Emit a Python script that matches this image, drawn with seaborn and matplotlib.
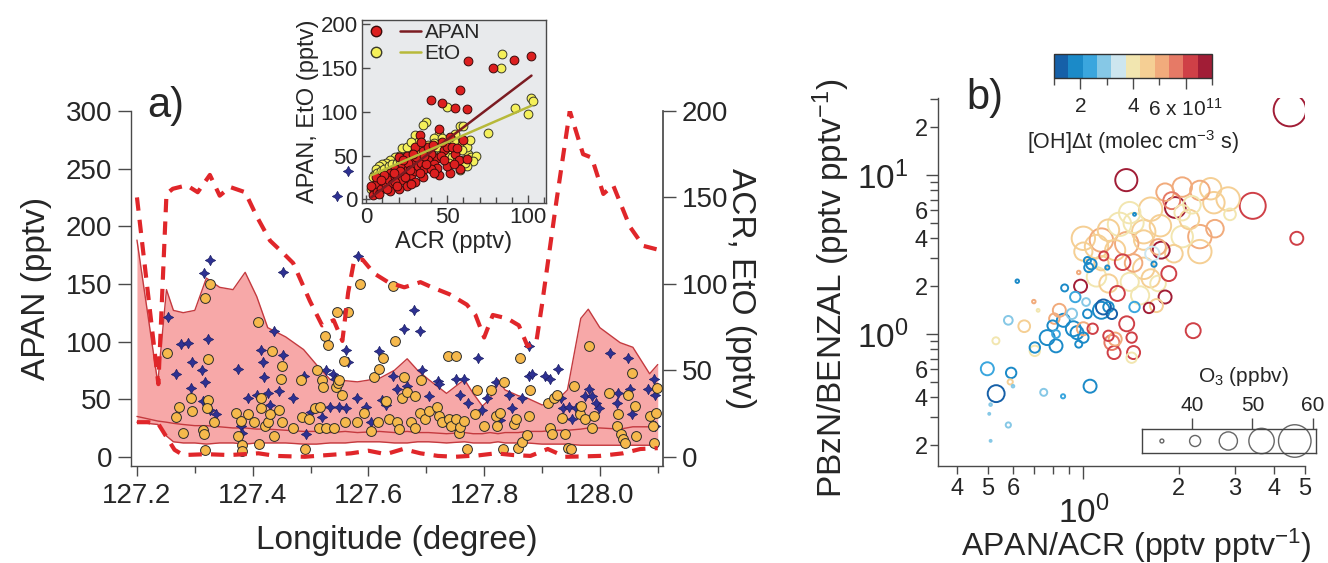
import numpy as np
import pandas as pd
import matplotlib
matplotlib.use("Agg")
import matplotlib.pyplot as plt
import matplotlib.ticker as mticker
from matplotlib.colors import ListedColormap, Normalize
from matplotlib.cm import ScalarMappable
from matplotlib.lines import Line2D
from matplotlib.legend_handler import HandlerTuple
import seaborn as sns

sns.set_theme(style="ticks")
plt.rcParams["font.family"] = ["Liberation Sans", "DejaVu Sans"]
plt.rcParams["mathtext.fontset"] = "custom"
plt.rcParams["mathtext.rm"] = "Liberation Sans"
plt.rcParams["mathtext.it"] = "Liberation Sans:italic"
plt.rcParams["mathtext.bf"] = "Liberation Sans:bold"

# ---------------- panel a: flight track data ----------------
# APAN envelope (min / median / max, pptv, left axis)
env_lon = [127.200, 127.236, 127.251, 127.263, 127.28, 127.30, 127.32, 127.343, 127.366, 127.387,
           127.407, 127.426, 127.457, 127.488, 127.51, 127.534, 127.56, 127.581, 127.619, 127.645,
           127.667, 127.685, 127.704, 127.735, 127.766, 127.781, 127.797, 127.81, 127.824, 127.836,
           127.859, 127.874, 127.90, 127.92, 127.944, 127.967, 127.98, 128.0, 128.035, 128.057,
           128.086, 128.10]
env_high = [188, 64, 145, 127, 125, 127, 155, 147, 145, 160,
            139, 112, 104, 93, 80, 67, 66, 65, 68, 75,
            85, 75, 67, 55, 67, 55, 44, 50, 67, 58,
            53, 51, 45, 46, 58, 120, 128, 112, 99, 95,
            72, 80]
env_mid = [35, 31, 30, 29, 28, 27, 27, 26, 25, 25,
           24, 24, 23, 22, 22, 21, 22, 21, 22, 21,
           22, 21, 21, 20, 21, 20, 20, 21, 20, 21,
           21, 22, 22, 23, 23, 24, 25, 25, 24, 26,
           26, 27]
env_low = [30, 28, 18, 13, 12, 12, 11, 12, 12, 11,
           12, 12, 12, 11, 11, 12, 12, 13, 13, 12,
           12, 13, 13, 12, 13, 12, 12, 12, 13, 12,
           12, 12, 11, 11, 11, 10, 10, 10, 10, 10,
           10, 10]

# ACR upper / lower bounds (pptv, right axis)
acr_hi_lon = [127.200, 127.237, 127.251, 127.262, 127.286, 127.305, 127.326, 127.343, 127.361, 127.387,
              127.407, 127.430, 127.452, 127.470, 127.499, 127.52, 127.54, 127.555, 127.565, 127.575,
              127.59, 127.61, 127.634, 127.662, 127.69, 127.71, 127.74, 127.77, 127.785, 127.80,
              127.815, 127.84, 127.86, 127.875, 127.89, 127.90, 127.925, 127.948, 127.971, 127.986,
              128.006, 128.023, 128.052, 128.075, 128.098]
acr_hi = [150, 42, 152, 155, 157, 153, 163, 151, 156, 153,
          139, 125, 118, 112, 90, 76, 79, 67, 95, 113,
          114, 106, 101, 98, 101, 98, 94, 88, 82, 69,
          82, 80, 76, 64, 66, 88, 148, 200, 175, 173,
          152, 157, 133, 122, 120]
acr_lo_lon = [127.200, 127.22, 127.237, 127.25, 127.265, 127.28, 127.32, 127.36, 127.41, 127.44,
              127.49, 127.53, 127.57, 127.60, 127.63, 127.66, 127.69, 127.72, 127.75, 127.79,
              127.82, 127.85, 127.88, 127.91, 127.94, 127.97, 128.0, 128.04, 128.07, 128.10]
acr_lo = [20, 20, 19, 12, 4, 1, 1.5, 1, 2, 0.5,
          0, 1, 2, 3.5, 1.5, 4.5, 2, 0.5, 0, 0.8,
          2, 1, 0.5, 4.5, 0, 0.2, 0.5, 2, 4.5, 5]

# APAN observations (pptv, left axis)
apan_lon = [127.252, 127.272, 127.267, 127.280, 127.295, 127.293, 127.317, 127.326, 127.314, 127.316,
            127.317, 127.323, 127.323, 127.321, 127.334, 127.372, 127.375, 127.380, 127.382, 127.381,
            127.392, 127.403, 127.409, 127.411, 127.415, 127.414, 127.422, 127.426, 127.430, 127.434,
            127.436, 127.451, 127.449, 127.446, 127.450, 127.469, 127.484, 127.485, 127.490, 127.498,
            127.507, 127.511, 127.515, 127.517, 127.520, 127.522, 127.525, 127.530, 127.527, 127.541,
            127.544, 127.547, 127.546, 127.565, 127.550, 127.554, 127.558, 127.560, 127.581, 127.585,
            127.592, 127.604, 127.610, 127.616, 127.619, 127.625, 127.631, 127.635, 127.642, 127.646,
            127.650, 127.652, 127.658, 127.662, 127.666, 127.673, 127.680, 127.681, 127.689, 127.691,
            127.697, 127.704, 127.718, 127.722, 127.727, 127.737, 127.751, 127.739, 127.743, 127.751,
            127.756, 127.758, 127.766, 127.770, 127.785, 127.787, 127.800, 127.812, 127.820, 127.822,
            127.828, 127.832, 127.834, 127.851, 127.855, 127.859, 127.862, 127.866, 127.874, 127.878,
            127.879, 127.911, 127.913, 127.920, 127.926, 127.918, 127.935, 127.940, 127.945, 127.950,
            127.955, 127.966, 127.968, 127.974, 127.982, 127.986, 127.990, 128.015, 128.029, 128.031,
            128.036, 128.040, 128.044, 128.048, 128.056, 128.060, 128.062, 128.087, 128.091, 128.097,
            128.098, 128.094]
apan_obs = [90, 43, 34.5, 21, 40, 51, 138, 150, 23, 20,
            6, 85, 49, 42.5, 30, 38, 18, 31, 10, 5,
            37, 30, 117, 11, 42.5, 51, 27, 30, 37, 92,
            18, 79, 67.5, 41, 30, 25, 67, 34.5, 7, 32.5,
            42.5, 75.6, 25, 43, 67, 60.6, 105, 97, 25, 25,
            60.6, 64, 126, 126, 67, 54, 83, 30, 30, 150,
            38, 22.4, 69, 30, 76, 85.6, 48, 32.5, 148, 100.5,
            30, 24, 51, 69, 56, 30, 52.6, 25, 38, 67,
            32.5, 39.6, 43, 35, 30, 87, 87.6, 32.5, 26.7, 32.5,
            21, 26, 31, 6.6, 36.8, 58, 27, 58, 35, 26.7,
            38, 6.6, 64.7, 28, 32.5, 8, 86, 13, 19, 35,
            58, 47, 25, 51, 54, 19.5, 34, 19.5, 8, 6.6,
            61, 36.8, 44, 32.5, 95.7, 25, 35, 55.5, 26.7, 36.8,
            19.5, 15, 12, 54, 72.7, 44, 18, 35, 26.7, 38,
            60, 12]

# EtO observations (pptv, right axis)
eto_lon = [127.253, 127.268, 127.276, 127.289, 127.295, 127.293, 127.312, 127.318, 127.323, 127.315,
           127.326, 127.314, 127.326, 127.336, 127.375, 127.380, 127.382, 127.392, 127.408, 127.415,
           127.417, 127.419, 127.426, 127.430, 127.436, 127.446, 127.453, 127.453, 127.469, 127.488,
           127.492, 127.500, 127.519, 127.527, 127.533, 127.538, 127.542, 127.550, 127.561, 127.564,
           127.562, 127.545, 127.565, 127.582, 127.581, 127.596, 127.604, 127.618, 127.623, 127.631,
           127.642, 127.650, 127.662, 127.667, 127.679, 127.689, 127.693, 127.704, 127.716, 127.720,
           127.722, 127.751, 127.758, 127.766, 127.772, 127.789, 127.797, 127.805, 127.820, 127.828,
           127.843, 127.849, 127.866, 127.878, 127.878, 127.882, 127.905, 127.913, 127.927, 127.932,
           127.936, 127.947, 127.951, 127.959, 127.975, 127.982, 127.986, 127.994, 127.998, 128.017,
           128.029, 128.032, 128.048, 128.052, 128.056, 128.083, 128.094, 128.095, 128.095]
eto_obs = [81, 48, 65, 66, 55, 40, 50, 43, 68, 106,
           114, 32, 27, 25, 51, 18, 14, 34, 36, 62,
           55, 46, 37, 30, 73, 38, 59, 107, 34, 47,
           13, 26, 23, 50, 29, 48, 45, 29, 62, 55,
           28, 151, 165, 116, 34, 29, 20, 61, 33, 30,
           47, 39, 74, 41, 85, 73, 50, 35, 28, 44,
           42, 45, 36, 45, 31, 57, 27, 34, 43, 21,
           36, 28, 34, 64, 47, 48, 47, 45, 51, 34,
           28, 29, 22, 28, 35, 39, 35, 31, 28, 60,
           31, 37, 57, 39, 25, 39, 45, 36, 18]

# inset: APAN and EtO against ACR (pptv)
acr_r = [40, 47, 55, 58, 63, 62, 78, 91, 102, 45, 52, 60, 33, 35, 48, 55, 57, 62, 52, 50,
         45, 58, 54, 44, 38, 40, 30, 28, 25, 20, 22, 18, 15, 12, 10, 8, 5, 4, 6, 3,
         7, 9, 12, 14, 16, 18, 20, 22, 24, 26, 28, 30, 32, 34, 36, 38, 42, 44, 46, 48,
         50, 35, 30, 25, 20, 15, 28, 33, 40, 26, 18, 13, 11, 6, 24, 21, 17, 31, 37, 42,
         27, 19, 9, 8, 36, 41, 47, 53, 56, 34, 23, 29]
apan_r = [113, 110, 104, 125, 157, 103, 150, 158, 163, 80, 71, 68, 73, 55, 56, 52, 45, 46, 30, 38,
          28, 35, 40, 47, 60, 52, 60, 45, 50, 48, 40, 35, 30, 25, 20, 15, 10, 5, 18, 15,
          8, 12, 16, 22, 18, 25, 28, 22, 30, 35, 28, 32, 38, 42, 35, 45, 40, 36, 50, 45,
          60, 25, 20, 15, 12, 10, 18, 30, 35, 42, 20, 12, 28, 25, 25, 32, 30, 48, 40, 30,
          33, 15, 22, 6, 50, 62, 65, 60, 58, 65, 45, 52]
acr_y = [83, 84, 92, 100, 102, 103, 75, 50, 37, 58, 60, 55, 63, 65, 68, 66, 62, 58, 60, 35,
         30, 32, 45, 42, 48, 52, 40, 38, 35, 30, 28, 25, 22, 20, 18, 15, 12, 10, 8, 6,
         5, 4, 7, 9, 11, 14, 16, 19, 21, 24, 27, 29, 31, 33, 36, 39, 43, 46, 49, 53,
         56, 61, 13, 17, 23, 26, 34, 41, 44, 47, 57, 62, 64, 51, 10, 3, 6, 25, 32, 38,
         59, 42, 54, 28, 20]
eto_y = [150, 165, 104, 97, 115, 112, 76, 105, 88, 83, 84, 75, 52, 48, 50, 44, 38, 33, 45, 85,
         73, 65, 75, 70, 62, 57, 55, 50, 48, 50, 55, 52, 58, 50, 48, 45, 42, 40, 38, 35,
         28, 25, 30, 32, 35, 38, 40, 42, 45, 47, 45, 40, 43, 47, 42, 45, 48, 52, 50, 48,
         44, 42, 30, 33, 37, 30, 35, 38, 60, 70, 62, 60, 68, 42, 22, 12, 18, 60, 57, 62,
         56, 64, 66, 65, 35]
apan_fit = (1.40, -2.0)   # slope, intercept
eto_fit = (0.80, 25.0)
fit_range = [3, 102]

# ---------------- panel b: ratio scatter ----------------
ratio_x = [4.48, 1.366, 3.42, 4.71, 1.95, 1.76, 2.05, 2.33, 2.52, 2.86,
           2.9, 1.9, 1.63, 1.40, 2.16, 2.05, 2.33, 1.72, 1.55, 1.37,
           1.14, 1.26, 1.45, 1.16, 1.33, 1.04, 1.0, 1.1, 1.44, 1.55,
           1.93, 2.05, 2.58, 1.81, 1.44, 1.19, 1.67, 1.65, 1.03, 0.619,
           1.06, 0.98, 0.873, 0.943, 1.02, 1.157, 1.14, 1.2, 1.45, 1.28,
           1.61, 1.81, 1.86, 2.22, 1.37, 1.42, 1.2, 1.23, 1.26, 1.25,
           1.44, 1.42, 1.07, 0.84, 0.865, 0.93, 0.955, 1.0, 0.967, 0.769,
           0.82, 0.703, 0.703, 0.651, 0.58, 0.53, 0.498, 0.531, 0.592, 0.588,
           0.6, 0.75, 0.863, 1.05, 0.51, 0.505, 0.58, 0.51, 0.698, 0.72,
           0.967, 1.23, 1.03, 1.63, 1.51, 1.1, 1.2, 1.4, 1.55, 2.33,
           1.72, 1.14, 0.81, 0.92, 1.7, 0.8, 0.82, 1.0, 1.2, 1.3,
           1.75, 2.2, 1.0, 2.6]
ratio_y = [25.6, 9.29, 6.4, 4.0, 6.25, 3.37, 8.4, 8.0, 8.2, 7.07,
           5.66, 6.9, 6.1, 5.8, 5.25, 4.1, 4.1, 3.53, 3.9, 3.7,
           3.9, 3.37, 5.66, 3.1, 2.83, 2.62, 4.0, 3.55, 5.0, 4.4,
           3.2, 5.8, 6.7, 7.8, 2.8, 2.62, 2.75, 3.2, 2.9, 2.15,
           2.75, 2.0, 1.95, 1.71, 1.59, 1.48, 1.41, 1.48, 1.48, 1.8,
           1.46, 1.71, 2.4, 1.05, 1.16, 0.95, 0.975, 0.885, 0.93, 0.765,
           0.765, 0.71, 1.08, 1.41, 1.22, 1.08, 1.02, 0.95, 0.864, 0.95,
           0.843, 0.823, 0.784, 1.12, 1.22, 0.907, 0.605, 0.422, 0.57, 0.5,
           0.47, 0.43, 0.406, 0.47, 0.36, 0.315, 0.268, 0.213, 1.6, 1.41,
           2.44, 1.34, 1.34, 2.24, 1.75, 2.29, 2.08, 2.13, 2.59, 3.3,
           2.08, 2.79, 1.25, 1.34, 1.51, 1.13, 1.0, 1.08, 4.5, 4.9,
           4.8, 6.5, 3.3, 4.6]
oh_dt = [6.8, 6.5, 6.0, 6.0, 7.0, 7.0, 5.0, 5.0, 4.6, 4.6,
         4.0, 5.5, 4.6, 4.0, 4.6, 4.0, 5.0, 5.0, 4.6, 5.0,
         5.0, 4.6, 2.0, 6.0, 6.0, 2.0, 4.6, 4.6, 4.0, 4.6,
         4.6, 4.0, 4.6, 5.0, 5.0, 2.0, 2.0, 3.5, 2.0, 2.0,
         2.0, 6.5, 2.0, 2.5, 3.0, 1.5, 2.0, 2.0, 2.5, 6.0,
         7.0, 7.0, 6.0, 6.0, 6.0, 6.0, 6.0, 5.5, 5.0, 6.0,
         6.0, 4.0, 6.0, 5.0, 2.0, 1.8, 2.0, 2.0, 2.0, 2.0,
         2.0, 2.0, 4.0, 4.6, 3.0, 4.0, 2.5, 1.5, 2.0, 4.6,
         3.0, 3.0, 2.5, 2.0, 3.0, 3.0, 3.0, 3.0, 5.0, 4.0,
         5.0, 1.5, 2.0, 4.6, 4.0, 4.0, 4.6, 4.0, 4.6, 4.6,
         4.0, 4.6, 5.0, 3.0, 4.6, 2.0, 2.5, 5.0, 4.6, 4.0,
         4.6, 4.0, 4.6, 5.0]
o3 = [57, 49, 52, 42, 48, 45, 47, 47, 48.5, 50,
      41, 45, 50, 48.5, 47, 48.5, 50, 44, 47, 50,
      50, 47.5, 34.2, 39, 44, 39, 50, 50, 47.5, 50,
      45.5, 44, 48.5, 45.5, 45.5, 35.2, 36, 43, 37.4, 34.7,
      40, 42, 37.4, 40, 38, 43.5, 45, 40, 40, 43.5,
      40, 42, 43.5, 43.5, 43.5, 40, 40, 43.5, 42, 42,
      42, 40, 40, 42, 42, 43.5, 42, 40, 37.4, 43.5,
      42, 40, 40, 41, 38.7, 37.4, 42, 45, 40, 36,
      34, 37.4, 35.2, 42, 34, 33.5, 36, 33.5, 34.7, 34.2,
      34.7, 40, 38.7, 46, 46, 47, 46, 46, 48.5, 50,
      44, 43, 40, 40, 42, 40, 38, 42, 48.5, 50,
      48.5, 45.5, 46, 45.5]
o3_key = [35, 40.5, 46, 51.5, 57]

oh_colors = ["#1660a8", "#1b8ac8", "#3aa6de", "#86c8e6", "#cde6ef", "#f2e6b0",
             "#f5cf94", "#f1ab7c", "#e67a66", "#cf4047", "#a11d36"]
oh_cmap = ListedColormap(oh_colors)
oh_norm = Normalize(1, 7)


def o3_area(v):
    """Marker area (pt^2) for an O3 mixing ratio: diameter grows linearly."""
    return (0.936 * (np.asarray(v, float) - 32.0)) ** 2


def to_right(v):
    return np.asarray(v, float) / 1.5


def to_left(v):
    return np.asarray(v, float) * 1.5


SPINE = "#4a4a4a"
fig = plt.figure(figsize=(13.28, 5.63), dpi=100)

# ================= panel a =================
ax = fig.add_axes([0.0986, 0.1723, 0.4006, 0.6306])
ax.set_xlim(127.1896, 128.109)
ax.set_ylim(-8, 300)

ax.fill_between(env_lon, env_low, env_high, color="#f7a8a8", lw=0, zorder=1)
for arr in (env_high, env_mid, env_low):
    sns.lineplot(x=env_lon, y=arr, ax=ax, color="#c43a3f", lw=1.0,
                 estimator=None, sort=False, zorder=2)

sns.scatterplot(x=eto_lon, y=to_left(eto_obs), ax=ax, marker=(4, 1, 0), s=55,
                color="#2e3192", edgecolor="#1c1f66", linewidth=0.5, zorder=4, legend=False)
sns.scatterplot(x=apan_lon, y=apan_obs, ax=ax, marker="o", s=50,
                color="#f6b94c", edgecolor="#2b2b2b", linewidth=0.7, zorder=5, legend=False)

for lon, vals in ((acr_hi_lon, acr_hi), (acr_lo_lon, acr_lo)):
    sns.lineplot(x=lon, y=to_left(vals), ax=ax, color="#e0262a", lw=3.0,
                 linestyle=(0, (3.2, 2.2)), estimator=None, sort=False, zorder=6)

ax.set_yticks([0, 50, 100, 150, 200, 250, 300])
ax.set_xticks([127.2, 127.4, 127.6, 127.8, 128.0])
ax.xaxis.set_major_formatter(mticker.FormatStrFormatter("%.1f"))
ax.xaxis.set_minor_locator(mticker.FixedLocator([127.3, 127.5, 127.7, 127.9, 128.1]))
ax.tick_params(axis="y", which="major", direction="out", length=9.5, width=1,
               color=SPINE, labelsize=20, pad=4)
ax.tick_params(axis="x", which="major", direction="out", length=7, width=1,
               color=SPINE, labelsize=20, pad=5)
ax.tick_params(axis="x", which="minor", direction="out", length=5, width=1, color=SPINE)
for side in ("top", "right"):
    ax.spines[side].set_visible(False)
for side in ("left", "bottom"):
    ax.spines[side].set_color(SPINE)
    ax.spines[side].set_linewidth(1)
ax.set_xlabel("Longitude (degree)", fontsize=24, labelpad=12)
ax.set_ylabel("APAN (pptv)", fontsize=24, labelpad=10)

sec = ax.secondary_yaxis("right", functions=(to_right, to_left))
sec.set_yticks([0, 50, 100, 150, 200])
sec.tick_params(direction="out", length=9.5, width=1, color=SPINE, labelsize=20, pad=4)
sec.spines["right"].set_color(SPINE)
sec.set_ylabel("ACR, EtO (pptv)", fontsize=24, rotation=270, va="center", ha="center")
sec.yaxis.set_label_coords(1.145, 0.5, transform=ax.transAxes)

fig.text(166 / 1328, 1 - 106 / 563, "a)", fontsize=30, ha="center", va="center")

# ---- inset ----
axi = fig.add_axes([0.2726, 0.6394, 0.1386, 0.3251], facecolor="#e8eaec")
axi.set_xlim(-2.5, 111)
axi.set_ylim(-4, 204)
sns.scatterplot(x=acr_y, y=eto_y, ax=axi, s=40, color="#f4f05a", edgecolor="#3a3a2a",
                linewidth=0.7, zorder=3, legend=False)
sns.scatterplot(x=acr_r, y=apan_r, ax=axi, s=40, color="#dc1f1f", edgecolor="#3a0a0a",
                linewidth=0.7, zorder=4, legend=False)
fx = np.array(fit_range, float)
sns.lineplot(x=fx, y=apan_fit[0] * fx + apan_fit[1], ax=axi, color="#7b1c22", lw=1.8, zorder=5)
sns.lineplot(x=fx, y=eto_fit[0] * fx + eto_fit[1], ax=axi, color="#b7b93a", lw=1.8, zorder=5)
axi.set_xticks([0, 50, 100])
axi.xaxis.set_minor_locator(mticker.MultipleLocator(10))
axi.set_yticks([0, 50, 100, 150, 200])
axi.tick_params(which="major", direction="in", length=6, width=1, color=SPINE,
                labelsize=16, pad=3)
axi.tick_params(which="minor", direction="in", length=4, width=1, color=SPINE)
for s in axi.spines.values():
    s.set_color(SPINE)
    s.set_linewidth(1)
axi.set_xlabel("ACR (pptv)", fontsize=17, labelpad=2)
axi.set_ylabel("APAN, EtO (pptv)", fontsize=17, labelpad=1)
h_apan = (Line2D([], [], marker="o", ls="none", mfc="#dc1f1f", mec="#3a0a0a", ms=7.5),
          Line2D([], [], color="#7b1c22", lw=1.8))
h_eto = (Line2D([], [], marker="o", ls="none", mfc="#f4f05a", mec="#3a3a2a", ms=7.5),
         Line2D([], [], color="#b7b93a", lw=1.8))
axi.legend([h_apan, h_eto], ["APAN", "EtO"],
           handler_map={tuple: HandlerTuple(ndivide=None, pad=0.6)},
           loc="upper left", frameon=False, fontsize=15, handlelength=2.7,
           handletextpad=0.15, borderaxespad=0.0, borderpad=0.15, labelspacing=0.1)

# ================= panel b =================
axb = fig.add_axes([0.7063, 0.1723, 0.2764, 0.6536])
axb.set_xscale("log")
axb.set_yscale("log")
dfb = pd.DataFrame({"ratio_x": ratio_x, "ratio_y": ratio_y, "oh": oh_dt, "o3": o3})
dfb = dfb.sort_values("o3", ascending=False).reset_index(drop=True)
sns.scatterplot(data=dfb, x="ratio_x", y="ratio_y", hue="oh", palette=oh_cmap,
                hue_norm=oh_norm, s=o3_area(dfb["o3"]), marker="o", linewidth=0,
                ax=axb, legend=False, zorder=3)
pts = axb.collections[-1]
pts.set_edgecolors(pts.get_facecolors())
pts.set_facecolors("none")
pts.set_linewidths(1.4)
axb.set_xlim(0.348, 5.0)
axb.set_ylim(0.148, 30.5)

axb.xaxis.set_major_locator(mticker.FixedLocator([1]))
axb.xaxis.set_major_formatter(mticker.FixedFormatter(["$10^{0}$"]))
x_minor = [0.4, 0.5, 0.6, 0.7, 0.8, 0.9, 2, 3, 4, 5]
x_minor_lab = ["4", "5", "6", "", "", "", "2", "3", "4", "5"]
axb.xaxis.set_minor_locator(mticker.FixedLocator(x_minor))
axb.xaxis.set_minor_formatter(mticker.FixedFormatter(x_minor_lab))
axb.yaxis.set_major_locator(mticker.FixedLocator([1, 10]))
axb.yaxis.set_major_formatter(mticker.FixedFormatter(["$10^{0}$", "$10^{1}$"]))
y_minor = [0.2, 0.3, 0.4, 0.5, 0.6, 0.7, 0.8, 0.9, 2, 3, 4, 5, 6, 7, 8, 9, 20, 30]
y_minor_lab = ["2", "", "4", "", "6", "", "", "", "2", "", "4", "", "6", "", "", "", "2", ""]
axb.yaxis.set_minor_locator(mticker.FixedLocator(y_minor))
axb.yaxis.set_minor_formatter(mticker.FixedFormatter(y_minor_lab))
axb.tick_params(which="both", direction="out", color=SPINE, width=1)
axb.tick_params(axis="x", which="major", length=9, labelsize=24, pad=12)
axb.tick_params(axis="x", which="minor", length=5.5, labelsize=17, pad=3)
axb.tick_params(axis="y", which="major", length=9, labelsize=24, pad=12)
axb.tick_params(axis="y", which="minor", length=5.5, labelsize=17, pad=2)
for side in ("top", "right"):
    axb.spines[side].set_visible(False)
for side in ("left", "bottom"):
    axb.spines[side].set_color(SPINE)
    axb.spines[side].set_linewidth(1)
axb.set_xlabel("APAN/ACR (pptv pptv$^{-1}$)", fontsize=23, va="center")
axb.xaxis.set_label_coords(0.54, -0.218)
axb.set_ylabel("PBzN/BENZAL (pptv pptv$^{-1}$)", fontsize=24)
axb.yaxis.set_label_coords(-0.234, 0.484)
fig.text(985 / 1328, 1 - 98 / 563, "b)", fontsize=30, ha="center", va="center")

# colour bar for [OH]dt
cax = fig.add_axes([0.7937, 0.8615, 0.119, 0.0426])
cb = fig.colorbar(ScalarMappable(norm=oh_norm, cmap=oh_cmap), cax=cax, orientation="horizontal")
cb.set_ticks([2, 4, 6])
cb.set_ticklabels(["2", "4", "6 x 10$^{11}$"])
cax.xaxis.set_minor_locator(mticker.FixedLocator([1, 3, 5, 7]))
cax.tick_params(which="major", direction="out", length=8, width=1, color=SPINE,
                labelsize=15, pad=6)
cax.tick_params(which="minor", direction="out", length=5, width=1, color=SPINE)
cb.outline.set_edgecolor("#333333")
cb.outline.set_linewidth(1)
cb.set_label("[OH]Δt (molec cm$^{-3}$ s)", fontsize=15.5, labelpad=6)

# size key for O3
axl = fig.add_axes([0.8599, 0.1954, 0.1310, 0.0426])
axl.set_xlim(31.7, 60.5)
axl.set_ylim(0, 1)
sns.scatterplot(x=o3_key, y=[0.5] * len(o3_key), s=o3_area(o3_key), marker="o",
                color="#666666", linewidth=0, ax=axl, legend=False, clip_on=False)
key = axl.collections[-1]
key.set_edgecolors("#666666")
key.set_facecolors("none")
key.set_linewidths(1.0)
axl.set_yticks([])
axl.set_xticks([40, 50, 60])
axl.xaxis.set_ticks_position("top")
axl.tick_params(axis="x", direction="out", length=8, width=1, color=SPINE,
                labelsize=15, pad=2, labeltop=True, labelbottom=False)
for s in axl.spines.values():
    s.set_color("#444444")
    s.set_linewidth(1)
axl.set_facecolor("none")
fig.text(1243 / 1328, 1 - 377 / 563, "O$_3$ (ppbv)", fontsize=15, ha="center", va="center")

fig.savefig("out.png", dpi=100)
